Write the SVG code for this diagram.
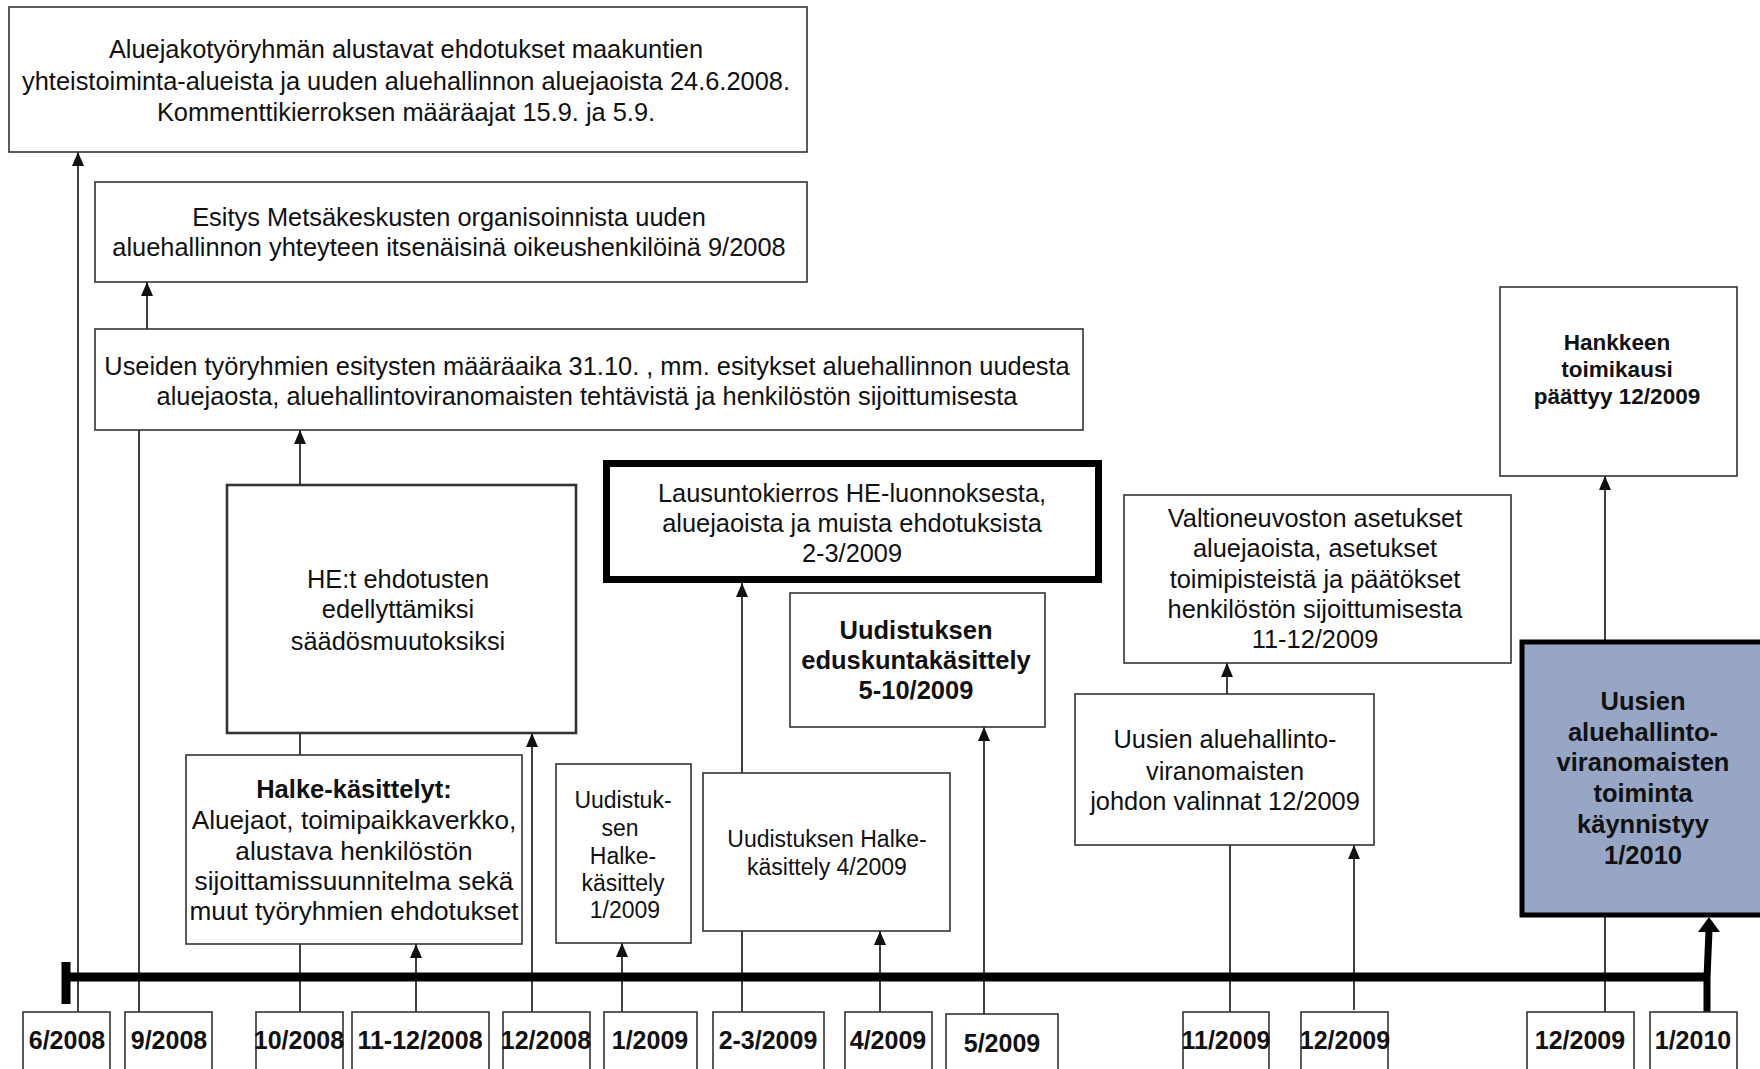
<svg xmlns="http://www.w3.org/2000/svg" width="1760" height="1069" viewBox="0 0 1760 1069">
<style>
text{font-family:"Liberation Sans",Arial,sans-serif;fill:#111;text-anchor:middle}
.t{font-size:25.4px}
.h{font-size:26.2px}
.s{font-size:23px}
.b{font-size:25.5px;font-weight:bold}
.hb{font-size:22.5px;font-weight:bold}
.lb{font-size:25px;font-weight:bold}
.box{fill:#fff;stroke:#333;stroke-width:1.6}
.conn{stroke:#111;stroke-width:1.6;fill:none}
</style>
<defs>
<marker id="ah" markerUnits="userSpaceOnUse" markerWidth="14" markerHeight="12" refX="14" refY="6" orient="auto">
<path d="M0,0 L14,6 L0,12 z" fill="#111"/>
</marker>
</defs>
<rect width="1760" height="1069" fill="#fff"/>
<g id="connectors">
<path class="conn" d="M78,1012 V152" marker-end="url(#ah)"/>
<path class="conn" d="M139,1012 V430"/>
<path class="conn" d="M147,329 V282" marker-end="url(#ah)"/>
<path class="conn" d="M300,1012 V430" marker-end="url(#ah)"/>
<path class="conn" d="M416,1012 V944" marker-end="url(#ah)"/>
<path class="conn" d="M532,1012 V733" marker-end="url(#ah)"/>
<path class="conn" d="M622,1012 V943" marker-end="url(#ah)"/>
<path class="conn" d="M742,1012 V583" marker-end="url(#ah)"/>
<path class="conn" d="M880,1012 V931" marker-end="url(#ah)"/>
<path class="conn" d="M984,1014 V727" marker-end="url(#ah)"/>
<path class="conn" d="M1230,1012 V845"/>
<path class="conn" d="M1227,694 V663" marker-end="url(#ah)"/>
<path class="conn" d="M1354,1010 V845" marker-end="url(#ah)"/>
<path class="conn" d="M1605,1012 V476" marker-end="url(#ah)"/>
<path d="M65,977 H1708" stroke="#000" stroke-width="9" fill="none"/>
<path d="M66,962 V1004" stroke="#000" stroke-width="9" fill="none"/>
<path d="M1707,1012 L1707,978 L1709,930" stroke="#000" stroke-width="7" fill="none"/>
<path d="M1709,917 L1720,932 L1698,932 z" fill="#000"/>
</g>
<g id="n1"><rect class="box" x="9" y="7" width="798" height="145"/>
<text class="t" x="406" y="58">Aluejakotyöryhmän alustavat ehdotukset maakuntien</text>
<text class="t" x="406" y="90">yhteistoiminta-alueista ja uuden aluehallinnon aluejaoista 24.6.2008.</text>
<text class="t" x="406" y="121">Kommenttikierroksen määräajat 15.9. ja 5.9.</text></g>
<g id="n2"><rect class="box" x="95" y="182" width="712" height="100"/>
<text class="t" x="449" y="226">Esitys Metsäkeskusten organisoinnista uuden</text>
<text class="t" x="449" y="256">aluehallinnon yhteyteen itsenäisinä oikeushenkilöinä 9/2008</text></g>
<g id="n3"><rect class="box" x="95" y="329" width="988" height="101"/>
<text class="t" x="587" y="375">Useiden työryhmien esitysten määräaika 31.10. , mm. esitykset aluehallinnon uudesta</text>
<text class="t" x="587" y="405">aluejaosta, aluehallintoviranomaisten tehtävistä ja henkilöstön sijoittumisesta</text></g>
<g id="n4"><rect class="box" x="227" y="485" width="349" height="248" style="stroke-width:2.6"/>
<text class="t" x="398" y="588">HE:t ehdotusten</text>
<text class="t" x="398" y="618">edellyttämiksi</text>
<text class="t" x="398" y="650">säädösmuutoksiksi</text></g>
<g id="n5"><rect class="box" x="186" y="755" width="336" height="189"/>
<text class="b" x="354" y="798">Halke-käsittelyt:</text>
<text class="h" x="354" y="829">Aluejaot, toimipaikkaverkko,</text>
<text class="h" x="354" y="860">alustava henkilöstön</text>
<text class="h" x="354" y="890">sijoittamissuunnitelma sekä</text>
<text class="h" x="354" y="920">muut työryhmien ehdotukset</text></g>
<g id="n6"><rect class="box" x="556" y="764" width="135" height="179"/>
<text class="s" x="623" y="808">Uudistuk-</text>
<text class="s" x="620" y="836">sen</text>
<text class="s" x="623" y="864">Halke-</text>
<text class="s" x="623" y="891">käsittely</text>
<text class="s" x="625" y="918">1/2009</text></g>
<g id="n7"><rect class="box" x="606.5" y="463.5" width="492" height="116" style="stroke:#000;stroke-width:7"/>
<text class="t" x="852" y="502">Lausuntokierros HE-luonnoksesta,</text>
<text class="t" x="852" y="532">aluejaoista ja muista ehdotuksista</text>
<text class="t" x="852" y="562">2-3/2009</text></g>
<g id="n8"><rect class="box" x="703" y="773" width="247" height="158"/>
<text class="s" x="827" y="847">Uudistuksen Halke-</text>
<text class="s" x="827" y="875">käsittely 4/2009</text></g>
<g id="n9"><rect class="box" x="790" y="593" width="255" height="134"/>
<text class="b" x="916" y="639">Uudistuksen</text>
<text class="b" x="916" y="669">eduskuntakäsittely</text>
<text class="b" x="916" y="699">5-10/2009</text></g>
<g id="n10"><rect class="box" x="1124" y="495" width="387" height="168"/>
<text class="t" x="1315" y="527">Valtioneuvoston asetukset</text>
<text class="t" x="1315" y="557">aluejaoista, asetukset</text>
<text class="t" x="1315" y="588">toimipisteistä ja päätökset</text>
<text class="t" x="1315" y="618">henkilöstön sijoittumisesta</text>
<text class="t" x="1315" y="648">11-12/2009</text></g>
<g id="n11"><rect class="box" x="1075" y="694" width="299" height="151"/>
<text class="t" x="1225" y="748">Uusien aluehallinto-</text>
<text class="t" x="1225" y="780">viranomaisten</text>
<text class="t" x="1225" y="810">johdon valinnat 12/2009</text></g>
<g id="n12"><rect class="box" x="1500" y="287" width="237" height="189"/>
<text class="hb" x="1617" y="350">Hankkeen</text>
<text class="hb" x="1617" y="377">toimikausi</text>
<text class="hb" x="1617" y="404">päättyy 12/2009</text></g>
<g id="n13"><rect x="1522" y="642" width="250" height="273" fill="#97a6c4" stroke="#000" stroke-width="5"/>
<text class="b" x="1643" y="710">Uusien</text>
<text class="b" x="1643" y="741">aluehallinto-</text>
<text class="b" x="1643" y="771">viranomaisten</text>
<text class="b" x="1643" y="802">toiminta</text>
<text class="b" x="1643" y="833">käynnistyy</text>
<text class="b" x="1643" y="864">1/2010</text></g>
<g id="l1"><rect class="box" x="23" y="1012" width="87" height="70"/><text class="lb" x="67" y="1049">6/2008</text></g>
<g id="l2"><rect class="box" x="125" y="1012" width="87" height="70"/><text class="lb" x="169" y="1049">9/2008</text></g>
<g id="l3"><rect class="box" x="256" y="1012" width="87" height="70"/><text class="lb" x="299" y="1049">10/2008</text></g>
<g id="l4"><rect class="box" x="352" y="1012" width="137" height="70"/><text class="lb" x="420" y="1049">11-12/2008</text></g>
<g id="l5"><rect class="box" x="503" y="1012" width="87" height="70"/><text class="lb" x="546" y="1049">12/2008</text></g>
<g id="l6"><rect class="box" x="604" y="1012" width="93" height="70"/><text class="lb" x="650" y="1049">1/2009</text></g>
<g id="l7"><rect class="box" x="713" y="1012" width="111" height="70"/><text class="lb" x="768" y="1049">2-3/2009</text></g>
<g id="l8"><rect class="box" x="845" y="1012" width="87" height="70"/><text class="lb" x="888" y="1049">4/2009</text></g>
<g id="l9"><rect class="box" x="946" y="1014" width="112" height="70"/><text class="lb" x="1002" y="1052">5/2009</text></g>
<g id="l10"><rect class="box" x="1183" y="1012" width="86" height="70"/><text class="lb" x="1226" y="1049">11/2009</text></g>
<g id="l11"><rect class="box" x="1301" y="1012" width="87" height="70"/><text class="lb" x="1345" y="1049">12/2009</text></g>
<g id="l12"><rect class="box" x="1527" y="1012" width="107" height="70"/><text class="lb" x="1580" y="1049">12/2009</text></g>
<g id="l13"><rect class="box" x="1650" y="1012" width="87" height="70"/><text class="lb" x="1693" y="1049">1/2010</text></g>
</svg>
